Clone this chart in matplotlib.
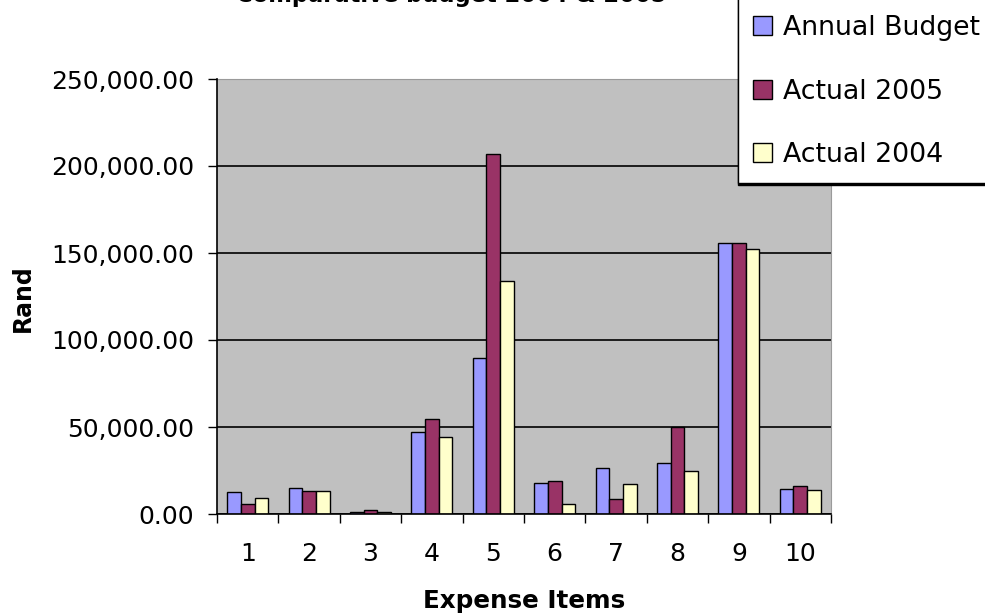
import matplotlib
matplotlib.use("Agg")
import matplotlib.pyplot as plt
import numpy as np
from matplotlib.patches import Patch
from matplotlib.ticker import FuncFormatter, FixedLocator

plt.rcParams['font.family'] = ['DejaVu Sans']

# Expense items and amounts (Rand)
items = ["1", "2", "3", "4", "5", "6", "7", "8", "9", "10"]
annual_budget = [12400, 14700, 1100, 47400, 89700, 18000, 26200, 29300, 155500, 14500]
actual_2005 = [5500, 13400, 2100, 54500, 206800, 19100, 8800, 49900, 155500, 15900]
actual_2004 = [9000, 13400, 1100, 44200, 134100, 5500, 17000, 24900, 152100, 13600]

series_names = ["Annual Budget", "Actual 2005", "Actual 2004"]
series_colors = ["#9999FF", "#993366", "#FFFFCC"]

W, H = 985, 614
fig = plt.figure(figsize=(W / 100, H / 100), dpi=100)
fig.patch.set_facecolor("white")

left, right, top, bottom = 217, 831, 79, 514
ax = fig.add_axes([left / W, 1 - bottom / H, (right - left) / W, (bottom - top) / H])
ax.set_facecolor("#C0C0C0")

x = np.arange(1, len(items) + 1)
bw = 2 / 9
for i, (vals, color, name) in enumerate(zip([annual_budget, actual_2005, actual_2004],
                                            series_colors, series_names)):
    ax.bar(x + (i - 1) * bw, vals, width=bw, color=color, edgecolor="black",
           linewidth=1.0, zorder=3, label=name)

ax.set_xlim(0.5, len(items) + 0.5)
ax.set_ylim(0, 250000)
ax.set_yticks(np.arange(0, 250001, 50000))
ax.yaxis.set_major_formatter(FuncFormatter(lambda v, p: f"{v:,.2f}"))
ax.yaxis.grid(True, color="black", linewidth=1.2, zorder=1)
ax.set_axisbelow(True)

ax.set_xticks(x)
ax.set_xticklabels(items)
ax.xaxis.set_minor_locator(FixedLocator(np.arange(0.5, len(items) + 1, 1.0)))
ax.tick_params(axis="x", which="major", length=0, pad=20, labelsize=18)
ax.tick_params(axis="x", which="minor", length=6.5, width=1.0, color="black", direction="out")
ax.tick_params(axis="y", which="major", length=6.5, width=1.0, color="black",
               direction="out", pad=10, labelsize=18)

for s in ["top", "right"]:
    ax.spines[s].set_color("#9a9a9a")
    ax.spines[s].set_linewidth(0.8)
for s in ["left", "bottom"]:
    ax.spines[s].set_color("black")
    ax.spines[s].set_linewidth(1.2)
    ax.spines[s].set_zorder(4)

ax.set_xlabel("Expense Items", fontsize=17.7, fontweight="bold", va="baseline")
ax.xaxis.set_label_coords(0.5, (bottom - 608) / (bottom - top))
ax.set_ylabel("Rand", fontsize=17, fontweight="bold", va="center", ha="center")
ax.yaxis.set_label_coords((23 - left) / (right - left), 0.5 - 1.5 / (bottom - top))

fig.text(451 / W, 1 - 2 / H, "Comparative budget 2004 & 2005", fontsize=16.3,
         fontweight="bold", ha="center", va="baseline")

handles = [Patch(facecolor=c, edgecolor="black", linewidth=1.0) for c in series_colors]
leg = fig.legend(handles, series_names, loc="lower left",
                 bbox_to_anchor=(738 / W, 1 - 183 / H), bbox_transform=fig.transFigure,
                 fontsize=19.3, frameon=True, fancybox=False, borderaxespad=0,
                 borderpad=0.55, handlelength=0.72, handleheight=0.72, handletextpad=0.4,
                 labelspacing=1.4, title=" ", title_fontsize=12,
                 shadow={"color": "black", "alpha": 1, "ox": 0, "oy": -1.2})
leg.get_frame().set_edgecolor("black")
leg.get_frame().set_linewidth(1.0)
leg.get_frame().set_facecolor("white")

fig.savefig("out.png", dpi=100)
